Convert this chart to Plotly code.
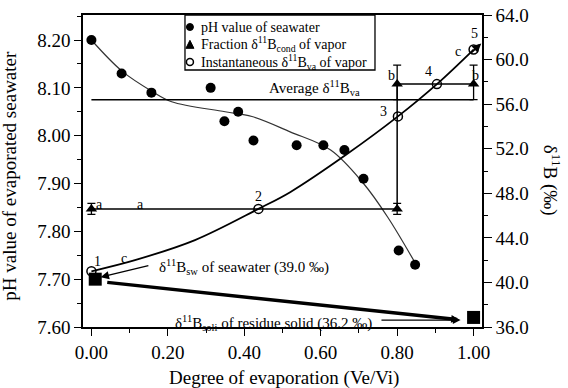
import plotly.graph_objects as go

# ---- data ----
ph_x = [0.00, 0.079, 0.157, 0.312, 0.348, 0.384, 0.424, 0.537, 0.607, 0.662, 0.712, 0.804, 0.847]
ph_y = [8.20, 8.13, 8.09, 8.10, 8.03, 8.05, 7.99, 7.98, 7.98, 7.97, 7.91, 7.76, 7.73]

ph_fit_x = [0.0, 0.08, 0.16, 0.21, 0.35, 0.42, 0.52, 0.626, 0.712, 0.775, 0.85]
ph_fit_y = [8.20, 8.135, 8.092, 8.071, 8.05, 8.04, 8.008, 7.97, 7.90, 7.83, 7.73]

inst_x = [0.0, 0.437, 0.802, 0.904, 1.0]
inst_y = [41.0, 46.6, 54.9, 57.8, 60.9]

curve_c_x = [0.0, 0.114, 0.271, 0.437, 0.52, 0.668, 0.802, 0.904, 1.0]
curve_c_y = [41.0, 42.0, 43.8, 46.6, 48.1, 51.5, 54.9, 57.8, 60.9]

frac_x = [0.0, 0.80, 0.80, 1.00]
frac_y = [46.6, 46.6, 57.8, 57.8]
frac_err_up = [0.5, 0.5, 1.7, 1.7]
frac_err_dn = [0.5, 0.5, 1.4, 1.4]

avg_x = [0.0, 1.0]
avg_y = [56.4, 56.4]

square_x = [0.01, 1.0]
square_y = [7.70, 7.62]

x_ticks = [0.0, 0.2, 0.4, 0.6, 0.8, 1.0]
y_ticks = [7.60, 7.70, 7.80, 7.90, 8.00, 8.10, 8.20]
y2_ticks = [36, 40, 44, 48, 52, 56, 60, 64]

legend_names = ["pH value of seawater",
                "Fraction δ<sup>11</sup>B<sub>cond</sub> of vapor",
                "Instantaneous δ<sup>11</sup>B<sub>va</sub> of vapor"]

FONT = "Liberation Serif"

fig = go.Figure()

fig.add_trace(go.Scatter(x=ph_fit_x, y=ph_fit_y, mode="lines", line=dict(color="#333", width=1.2, shape="spline"),
                         showlegend=False, hoverinfo="skip"))
fig.add_trace(go.Scatter(x=avg_x, y=avg_y, yaxis="y2", mode="lines", line=dict(color="black", width=1.5),
                         showlegend=False))
fig.add_trace(go.Scatter(x=frac_x, y=frac_y, yaxis="y2", mode="lines", line=dict(color="black", width=1.5),
                         showlegend=False))
fig.add_trace(go.Scatter(x=curve_c_x, y=curve_c_y, yaxis="y2", mode="lines",
                         line=dict(color="black", width=1.8, shape="spline"), showlegend=False))

fig.add_trace(go.Scatter(x=ph_x, y=ph_y, mode="markers", name=legend_names[0], showlegend=False,
                         marker=dict(symbol="circle", size=10, color="black")))
fig.add_trace(go.Scatter(x=frac_x, y=frac_y, yaxis="y2", mode="markers", name=legend_names[1], showlegend=False,
                         marker=dict(symbol="triangle-up", size=10, color="black"),
                         error_y=dict(type="data", symmetric=False, array=frac_err_up, arrayminus=frac_err_dn,
                                      color="black", thickness=1.3, width=4)))
fig.add_trace(go.Scatter(x=inst_x, y=inst_y, yaxis="y2", mode="markers", name=legend_names[2], showlegend=False,
                         marker=dict(symbol="circle-open", size=9, color="black", line=dict(width=1.5))))
fig.add_trace(go.Scatter(x=square_x, y=square_y, mode="markers", showlegend=False,
                         marker=dict(symbol="square", size=13, color="black")))

ann = []
def label(x, y, text, size=14, xanchor="center", yanchor="middle", yref="y2"):
    ann.append(dict(x=x, y=y, xref="x", yref=yref, text=text, showarrow=False,
                    font=dict(size=size, family=FONT, color="black"), xanchor=xanchor, yanchor=yanchor))

label(0.016, 41.84, "1")
label(0.085, 42.15, "c")
label(0.437, 47.74, "2")
label(0.763, 55.32, "3")
label(0.882, 58.9, "4")
label(1.002, 62.36, "5")
label(0.958, 60.7, "c")
label(0.786, 58.6, "b")
label(1.005, 58.6, "b")
label(0.022, 47.0, "a")
label(0.129, 47.0, "a")
label(0.459, 57.45, "Average δ<sup>11</sup>B<sub>va</sub>", size=15, xanchor="left")
label(0.171, 41.4, "δ<sup>11</sup>B<sub>sw</sub> of seawater (39.0 ‰)", size=15, xanchor="left")
label(0.476, 36.35, "δ<sup>11</sup>B<sub>soli</sub> of residue solid (36.2 ‰)", size=15)

def arrow(x, y, ax, ay, width=1.3, size=1.0, head=2):
    ann.append(dict(x=x, y=y, ax=ax, ay=ay, xref="x", yref="y2", axref="x", ayref="y2", text="",
                    showarrow=True, arrowhead=head, arrowsize=size, arrowwidth=width, arrowcolor="black"))

arrow(0.024, 40.47, 0.153, 41.54, width=1.4, size=1.2)
arrow(0.962, 36.65, 0.0375, 40.02, width=3.5, size=0.45)
arrow(0.966, 36.62, 0.755, 36.62, width=1.3, size=1.2)
arrow(1.02, 61.45, 0.99, 60.5, width=1.8, size=1.0)

# axis titles
ann.append(dict(x=1.176, y=0.471, xref="paper", yref="paper", text="δ<sup>11</sup>B (‰)", textangle=90,
                showarrow=False, font=dict(size=19, family=FONT, color="black"),
                xanchor="center", yanchor="middle"))
ann.append(dict(x=0.504, y=-0.1635, xref="paper", yref="paper", text="Degree of evaporation (Ve/Vi)",
                showarrow=False, font=dict(size=19, family=FONT, color="black"),
                xanchor="center", yanchor="middle"))
ann.append(dict(x=-0.183, y=0.485, xref="paper", yref="paper", text="pH value of evaporated seawater",
                textangle=-90, showarrow=False, font=dict(size=19, family=FONT, color="black"),
                xanchor="center", yanchor="middle"))

# manual legend box
lx0, lx1, ly0, ly1 = 0.2556, 0.7318, 0.8237, 1.0
shapes = [dict(type="rect", xref="paper", yref="paper", x0=lx0, x1=lx1, y0=ly0, y1=ly1,
               line=dict(color="black", width=1.3), fillcolor="white", layer="above")]
row_y = [0.9615, 0.906, 0.849]
mx = 0.268
hw, hh = 3.5 / 399, 3.5 / 312
shapes.append(dict(type="circle", xref="paper", yref="paper", x0=mx - hw, x1=mx + hw, y0=row_y[0] - hh,
                   y1=row_y[0] + hh, fillcolor="black", line=dict(color="black", width=1), layer="above"))
tw, th = 4.0 / 399, 4.0 / 312
shapes.append(dict(type="path", xref="paper", yref="paper",
                   path=f"M {mx - tw},{row_y[1] - th} L {mx + tw},{row_y[1] - th} L {mx},{row_y[1] + th} Z",
                   fillcolor="black", line=dict(color="black", width=1), layer="above"))
shapes.append(dict(type="circle", xref="paper", yref="paper", x0=mx - hw, x1=mx + hw, y0=row_y[2] - hh,
                   y1=row_y[2] + hh, fillcolor="white", line=dict(color="black", width=1.5), layer="above"))
for ry, name in zip(row_y, legend_names):
    ann.append(dict(x=0.291, y=ry, xref="paper", yref="paper", text=name, showarrow=False, xanchor="left",
                    yanchor="middle", font=dict(size=14, family=FONT, color="black")))

axis_common = dict(showline=True, linecolor="black", linewidth=1.5, ticks="outside", tickcolor="black",
                   tickwidth=1.3, showgrid=False, zeroline=False, automargin=False,
                   tickfont=dict(size=19, family=FONT, color="black"))

fig.update_layout(
    width=568, height=388,
    margin=dict(l=83, r=86, t=15, b=61),
    plot_bgcolor="white", paper_bgcolor="white",
    font=dict(family=FONT, color="black"),
    showlegend=False,
    xaxis=dict(range=[-0.022, 1.022], tickvals=x_ticks, tickformat=".2f", ticklen=7, mirror=True,
               minor=dict(dtick=0.1, tick0=0, ticks="outside", ticklen=4, tickcolor="black", tickwidth=1.3),
               **axis_common),
    yaxis=dict(range=[7.60, 8.2523], tickvals=y_ticks, tickformat=".2f", ticklen=7,
               minor=dict(dtick=0.05, tick0=7.6, ticks="outside", ticklen=4, tickcolor="black", tickwidth=1.3),
               **axis_common),
    yaxis2=dict(range=[36, 64], tickvals=y2_ticks, tickformat=".1f", ticklen=8, overlaying="y", side="right",
                minor=dict(dtick=2, tick0=36, ticks="outside", ticklen=4, tickcolor="black", tickwidth=1.3),
                **axis_common),
    annotations=ann,
    shapes=shapes,
)

fig.write_html("out.html")
